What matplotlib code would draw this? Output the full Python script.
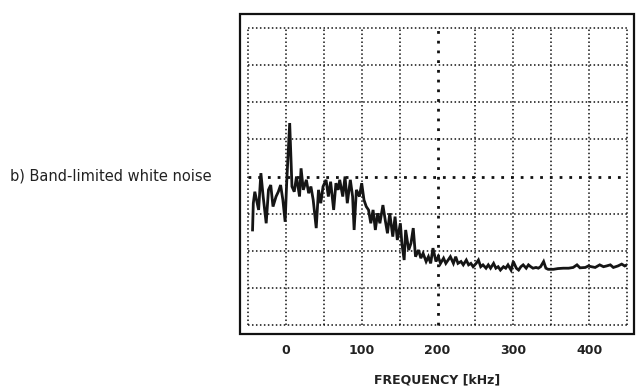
import numpy as np
import matplotlib.pyplot as plt
from matplotlib.patches import Rectangle

# spectrum (frequency in kHz, level in grid divisions)
freq_khz = [-44, -43, -41, -36, -33, -30, -26, -23, -20, -17, -13, -10, -7, -4, -1,
            1, 5, 8, 11, 14, 18, 20, 23, 27, 30, 33, 36, 40, 43, 46, 49,
            53, 56, 59, 63, 66, 69, 71, 75, 78, 81, 85, 88, 90, 93, 97, 100,
            103, 106, 109, 112, 115, 118, 121, 124, 128, 131, 134, 137, 141, 144, 147,
            151, 153, 156, 158, 162, 165, 168, 171, 175, 178, 181, 185, 188, 191, 194,
            198, 201, 204, 208, 211, 214, 217, 221, 224, 227, 231, 234, 238, 241, 244,
            247, 251, 254, 257, 260, 264, 267, 270, 274, 277, 280, 283, 287, 290, 293,
            297, 300, 304, 307, 310, 313, 317, 320, 323, 326, 330, 333, 336, 340, 343,
            346, 353, 359, 366, 373, 379, 384, 388, 395, 399, 403, 408, 414, 419, 423,
            428, 432, 438, 443, 447, 450]
level = [2.56, 3.28, 3.59, 3.10, 4.09, 3.46, 2.74, 3.64, 3.77, 3.19, 3.46, 3.59, 3.77, 3.37, 2.78,
         3.82, 5.44, 3.73, 3.59, 4.00, 3.46, 4.22, 3.64, 3.91, 3.55, 3.73, 3.37, 2.61, 3.64, 3.28, 3.73,
         3.91, 3.46, 3.86, 3.10, 3.82, 3.64, 3.91, 3.46, 4.00, 3.28, 3.91, 3.46, 2.56, 3.64, 3.46, 3.82,
         3.37, 3.19, 3.10, 2.74, 3.10, 2.56, 3.01, 2.74, 3.23, 2.83, 2.47, 3.01, 2.38, 2.92, 2.29,
         2.74, 2.20, 1.75, 2.56, 2.02, 2.20, 2.61, 1.84, 2.02, 1.80, 1.93, 1.71, 1.84, 1.66, 2.07,
         1.71, 1.84, 1.66, 1.80, 1.66, 1.75, 1.84, 1.66, 1.84, 1.66, 1.71, 1.62, 1.75, 1.62, 1.66,
         1.57, 1.66, 1.75, 1.57, 1.62, 1.53, 1.62, 1.53, 1.66, 1.53, 1.57, 1.48, 1.57, 1.53, 1.62,
         1.48, 1.71, 1.53, 1.48, 1.57, 1.62, 1.53, 1.62, 1.57, 1.53, 1.55, 1.53, 1.57, 1.71, 1.53,
         1.50, 1.50, 1.52, 1.53, 1.53, 1.55, 1.62, 1.54, 1.55, 1.59, 1.57, 1.55, 1.62, 1.57, 1.59,
         1.62, 1.55, 1.59, 1.64, 1.59, 1.62]
xticks = [0, 100, 200, 300, 400]

plt.rcParams['font.family'] = 'DejaVu Sans'
fig = plt.figure(figsize=(6.36, 3.88), dpi=100)
W, H = 636, 388
ax = fig.add_axes([248 / W, 1 - 325 / H, 379 / W, 297 / H])
ax.set_xlim(-50, 450)
ax.set_ylim(0, 8)

# dotted graticule, centre cross heavier
for gx in np.arange(-50, 451, 50):
    heavy = gx == 200
    ax.axvline(gx, color='#111111', lw=2.0 if heavy else 1.1,
               ls=(0, (1, 2.5)) if heavy else (0, (1, 1.6)), clip_on=False)
for gy in range(0, 9):
    heavy = gy == 4
    ax.axhline(gy, color='#111111', lw=2.0 if heavy else 1.1,
               ls=(0, (1, 2.5)) if heavy else (0, (1, 1.6)), clip_on=False)

ax.plot(freq_khz, level, color='#151515', lw=2.0, solid_joinstyle='miter')

for s in ax.spines.values():
    s.set_visible(False)
ax.set_yticks([])
ax.set_xticks(xticks)
ax.set_xticklabels([str(t) for t in xticks], fontsize=9, fontweight='bold', color='#222222')
ax.tick_params(axis='x', length=0, pad=14)

# outer solid frame of the scope screen
fig.patches.append(Rectangle((240 / W, 1 - 334 / H), 394 / W, 320 / H,
                             transform=fig.transFigure, fill=False,
                             lw=1.6, ec='#111111'))

fig.text(437 / W, 1 - 380 / H, 'FREQUENCY [kHz]', ha='center', va='center',
         fontsize=9, fontweight='bold', color='#222222')
fig.text(10 / W, 1 - 176 / H, 'b) Band-limited white noise', ha='left', va='center',
         fontsize=10.5, color='#222222')

fig.savefig('out.png', dpi=100)
